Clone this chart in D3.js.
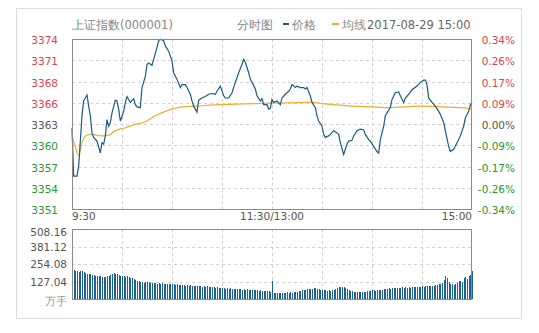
<!DOCTYPE html>
<html>
<head>
<meta charset="utf-8">
<script src="https://cdn.jsdelivr.net/npm/d3@7"></script>
<style>
  body { margin: 0; background: #fff; }
  svg text { font-family: "DejaVu Sans", Verdana, sans-serif; }
</style>
</head>
<body>
<div id="chart"></div>
<script>
// Data
const prevClose = 3362.6;
const maxPct = 0.0034;
const volMax = 508.16;

const priceLabels = ["3374", "3371", "3368", "3366", "3363", "3360", "3357", "3354", "3351"];
const pctLabels = ["0.34%", "0.26%", "0.17%", "0.09%", "0.00%", "-0.09%", "-0.17%", "-0.26%", "-0.34%"];
const volLabels = ["508.16", "381.12", "254.08", "127.04"];
const timeLabels = ["9:30", "11:30/13:00", "15:00"];
const timeTicks = [0, 120, 240];

// minutes from 9:30 (lunch removed) and price
const priceMinutes = [0, 1, 3, 4, 6, 7, 9, 10, 11, 12, 13, 15, 17, 18, 19, 20, 21, 22, 23, 24,
  26, 27, 28, 29, 31, 32, 33, 34, 35, 37, 38, 39, 41, 42, 44, 45, 46, 48, 49, 51,
  52, 53, 55, 56, 58, 60, 61, 63, 65, 66, 68, 69, 71, 72, 73, 75, 76, 78, 80, 82,
  84, 86, 87, 89, 91, 92, 94, 96, 98, 100, 102, 103, 104, 106, 107, 108, 110, 111, 113, 114,
  115, 117, 118, 119, 120, 121, 123, 125, 126, 128, 130, 131, 132, 134, 135, 137, 139, 140, 141, 143,
  144, 146, 147, 148, 150, 151, 152, 154, 155, 157, 159, 160, 161, 163, 165, 166, 168, 169, 171, 173,
  175, 176, 178, 179, 181, 183, 184, 185, 187, 188, 189, 191, 192, 194, 196, 197, 199, 200, 202, 204,
  207, 209, 211, 212, 213, 214, 216, 218, 220, 221, 223, 224, 226, 227, 229, 230, 232, 233, 235, 236,
  238, 239, 240];
const priceValues = [3362.1, 3355.6, 3355.6, 3356.9, 3363.7, 3365.7, 3366.5, 3365.0, 3363.7, 3361.4,
  3360.8, 3360.3, 3358.7, 3360.1, 3359.9, 3361.0, 3363.2, 3362.3, 3362.8, 3364.1,
  3365.8, 3365.7, 3364.6, 3363.0, 3364.3, 3365.5, 3366.3, 3365.9, 3365.5, 3366.0,
  3365.2, 3364.9, 3364.8, 3367.5, 3369.0, 3370.6, 3370.8, 3370.5, 3371.3, 3372.9,
  3373.8, 3374.0, 3373.8, 3373.1, 3372.4, 3371.1, 3369.5, 3368.6, 3367.5, 3367.9,
  3367.9, 3367.5, 3366.6, 3365.7, 3365.0, 3364.2, 3365.8, 3366.1, 3366.3, 3366.6,
  3366.7, 3366.6, 3367.0, 3367.7, 3366.4, 3366.1, 3366.1, 3366.8, 3368.2, 3369.5,
  3370.6, 3371.3, 3370.9, 3369.5, 3368.6, 3368.2, 3367.3, 3366.4, 3365.7, 3366.0,
  3365.2, 3365.2, 3364.6, 3364.7, 3365.9, 3365.5, 3365.7, 3365.2, 3366.1, 3366.6,
  3367.0, 3367.3, 3367.9, 3367.5, 3367.7, 3367.5, 3367.5, 3367.3, 3367.5, 3366.4,
  3365.5, 3364.8, 3363.7, 3363.0, 3362.3, 3361.2, 3360.8, 3361.0, 3361.2, 3361.7,
  3361.4, 3361.2, 3360.1, 3358.5, 3359.9, 3360.3, 3360.4, 3361.0, 3361.7, 3361.9,
  3361.8, 3361.2, 3360.5, 3360.3, 3359.6, 3358.9, 3358.7, 3360.5, 3362.3, 3363.7,
  3364.1, 3364.8, 3365.9, 3366.8, 3366.9, 3366.4, 3365.5, 3366.1, 3366.6, 3367.2,
  3367.7, 3368.2, 3368.5, 3368.5, 3367.9, 3366.1, 3365.5, 3365.0, 3364.3, 3363.9,
  3362.8, 3361.7, 3359.6, 3358.9, 3359.2, 3359.6, 3360.5, 3361.0, 3362.3, 3363.4,
  3364.3, 3365.2, 3365.5];

const avgMinutes = [0, 2, 4, 6, 8, 11, 15, 18, 22, 26, 32, 37, 44, 50, 56, 60, 66, 74, 88, 104,
  120, 144, 152, 168, 180, 190, 210, 222, 238, 240];
const avgValues = [3361.1, 3359.5, 3358.4, 3360.1, 3361.0, 3361.2, 3361.1, 3361.0, 3361.1, 3361.7,
  3362.1, 3362.5, 3362.9, 3363.7, 3364.3, 3364.6, 3364.9, 3365.0, 3365.2, 3365.3,
  3365.4, 3365.5, 3365.3, 3365.0, 3364.9, 3364.8, 3365.0, 3364.9, 3364.7, 3364.6];

// volume per minute, 万手
const volumes = [
  229, 212, 206, 200, 196, 202, 206, 198, 190, 185,
  182, 178, 176, 172, 170, 168, 166, 165, 162, 160,
  162, 166, 170, 176, 182, 189, 184, 178, 172, 168,
  170, 166, 162, 165, 160, 155, 150, 146, 140, 134,
  128, 122, 120, 118, 121, 126, 122, 118, 116, 114,
  116, 112, 115, 110, 113, 108, 112, 109, 107, 110,
  106, 108, 104, 107, 103, 105, 100, 104, 98, 102,
  97, 100, 95, 98, 93, 96, 92, 95, 90, 92,
  88, 91, 86, 89, 84, 87, 82, 85, 80, 83,
  78, 80, 76, 79, 74, 77, 72, 75, 70, 73,
  70, 72, 68, 71, 66, 69, 65, 68, 63, 66,
  62, 64, 60, 63, 58, 61, 57, 59, 55, 54,
  128,
  44, 42, 45, 43, 46, 44, 47, 45, 48, 46,
  49, 47, 50, 48, 52, 55, 60, 64, 68, 66,
  70, 74, 72, 76, 80, 77, 73, 70, 68, 65,
  62, 64, 60, 63, 58, 62, 66, 72, 80, 86,
  90, 88, 84, 78, 70, 62, 58, 55, 52, 54,
  50, 53, 49, 52, 48, 51, 55, 58, 60, 62,
  64, 60, 63, 66, 62, 68, 72, 70, 74, 78,
  76, 80, 78, 82, 79, 83, 80, 84, 81, 85,
  82, 86, 83, 87, 84, 88, 86, 90, 88, 92,
  90, 94, 92, 96, 93, 98, 96, 102, 100, 106,
  110, 118, 140, 164, 150, 120, 112, 108, 104, 110,
  116, 128, 134, 126, 150, 157, 148, 165, 175, 200
];

// Layout
const width = 539;
const height = 333;
const left = 72, right = 472;
const pTop = 39, pBottom = 209;
const vTop = 229, vBottom = 299;

const red = "#e0434f", green = "#2a9632", grey = "#555";

const svg = d3.select("#chart").append("svg")
  .attr("width", width)
  .attr("height", height);

// outer box
svg.append("rect")
  .attr("x", 16.5).attr("y", 8.5)
  .attr("width", 505).attr("height", 310)
  .attr("fill", "none").attr("stroke", "#dcdcdc");

const x = d3.scaleLinear().domain([0, 240]).range([left, right]);
const y = d3.scaleLinear()
  .domain([prevClose * (1 - maxPct), prevClose * (1 + maxPct)])
  .range([pBottom, pTop]);
const yv = d3.scaleLinear().domain([0, volMax]).range([vBottom, vTop]);

const tickPrices = priceLabels.map((_, i) => prevClose * (1 + maxPct * (4 - i) / 4));
const tickVols = volLabels.map((_, i) => volMax * (4 - i) / 4);
const vGrid = d3.range(30, 240, 30);

// grid
const grid = svg.append("g")
  .attr("stroke", "#d2d2d2")
  .attr("stroke-dasharray", "3,3");
tickPrices.slice(1, -1).forEach((p) => {
  grid.append("line")
    .attr("x1", left).attr("x2", right)
    .attr("y1", Math.round(y(p)) + 0.5).attr("y2", Math.round(y(p)) + 0.5);
});
tickVols.slice(1).forEach((v) => {
  grid.append("line")
    .attr("x1", left).attr("x2", right)
    .attr("y1", Math.round(yv(v)) + 0.5).attr("y2", Math.round(yv(v)) + 0.5);
});
vGrid.forEach((m) => {
  const gx = Math.round(x(m)) + 0.5;
  grid.append("line").attr("x1", gx).attr("x2", gx).attr("y1", pTop).attr("y2", pBottom);
  grid.append("line").attr("x1", gx).attr("x2", gx).attr("y1", vTop).attr("y2", vBottom);
});

// volume bars
svg.append("g")
  .attr("shape-rendering", "crispEdges")
  .selectAll("rect")
  .data(volumes)
  .enter()
  .append("rect")
  .attr("x", (d, i) => Math.round(x(i)))
  .attr("width", 1)
  .attr("y", (d) => yv(d))
  .attr("height", (d) => vBottom - yv(d))
  .attr("fill", "#1c6196");

// average line
const avgLine = d3.line()
  .x((d) => x(d[0]))
  .y((d) => y(d[1]))
  .curve(d3.curveMonotoneX);
svg.append("path")
  .datum(d3.zip(avgMinutes, avgValues))
  .attr("d", avgLine)
  .attr("fill", "none")
  .attr("stroke", "#eeac33")
  .attr("stroke-width", 1.2);

// price line
const priceLine = d3.line()
  .x((d) => x(d[0]))
  .y((d) => y(d[1]));
svg.append("path")
  .datum(d3.zip(priceMinutes, priceValues))
  .attr("d", priceLine)
  .attr("fill", "none")
  .attr("stroke", "#1d5b80")
  .attr("stroke-width", 1.2);

// frames
svg.append("rect")
  .attr("x", left + 0.5).attr("y", pTop + 0.5)
  .attr("width", right - left - 1).attr("height", pBottom - pTop)
  .attr("fill", "none").attr("stroke", "#8a8a8a");
svg.append("rect")
  .attr("x", left + 0.5).attr("y", vTop + 0.5)
  .attr("width", right - left - 1).attr("height", vBottom - vTop)
  .attr("fill", "none").attr("stroke", "#8a8a8a");

const labelColor = (i) => (i < 4 ? red : i === 4 ? grey : green);

// left price labels
svg.append("g")
  .selectAll("text")
  .data(priceLabels)
  .enter()
  .append("text")
  .attr("x", 58)
  .attr("y", (d, i) => y(tickPrices[i]) + 5)
  .attr("text-anchor", "end")
  .style("font-size", "10.5px")
  .style("fill", (d, i) => labelColor(i))
  .text((d) => d);

// right pct labels
svg.append("g")
  .selectAll("text")
  .data(pctLabels)
  .enter()
  .append("text")
  .attr("x", 515)
  .attr("y", (d, i) => y(tickPrices[i]) + 5)
  .attr("text-anchor", "end")
  .style("font-size", "10.5px")
  .style("fill", (d, i) => labelColor(i))
  .text((d) => d);

// time labels
svg.append("g")
  .selectAll("text")
  .data(timeLabels)
  .enter()
  .append("text")
  .attr("x", (d, i) => x(timeTicks[i]))
  .attr("y", 220)
  .attr("text-anchor", (d, i) => (i === 0 ? "start" : i === 2 ? "end" : "middle"))
  .style("font-size", "10.5px")
  .style("fill", grey)
  .text((d) => d);

// volume labels
svg.append("g")
  .selectAll("text")
  .data(volLabels)
  .enter()
  .append("text")
  .attr("x", 67)
  .attr("y", (d, i) => Math.max(yv(tickVols[i]), 232) + 4)
  .attr("text-anchor", "end")
  .style("font-size", "10.5px")
  .style("fill", grey)
  .text((d) => d);
svg.append("text")
  .attr("x", 67).attr("y", 305)
  .attr("text-anchor", "end")
  .style("font-size", "11px")
  .style("fill", "#999")
  .text("万手");

// header
const head = svg.append("g").style("font-size", "11.5px");
head.append("text").attr("x", 72).attr("y", 29).style("fill", "#888").text("上证指数(000001)");
head.append("text").attr("x", 237).attr("y", 29).style("fill", "#888").text("分时图");
head.append("rect").attr("x", 283).attr("y", 23).attr("width", 6).attr("height", 2).attr("fill", "#1d5b80");
head.append("text").attr("x", 292).attr("y", 29).style("fill", "#888").text("价格");
head.append("rect").attr("x", 332).attr("y", 23).attr("width", 7).attr("height", 2).attr("fill", "#eeac33");
head.append("text").attr("x", 342).attr("y", 29).style("fill", "#888").text("均线");
head.append("text").attr("x", 367).attr("y", 29).style("fill", "#666").text("2017-08-29 15:00");
</script>
</body>
</html>
